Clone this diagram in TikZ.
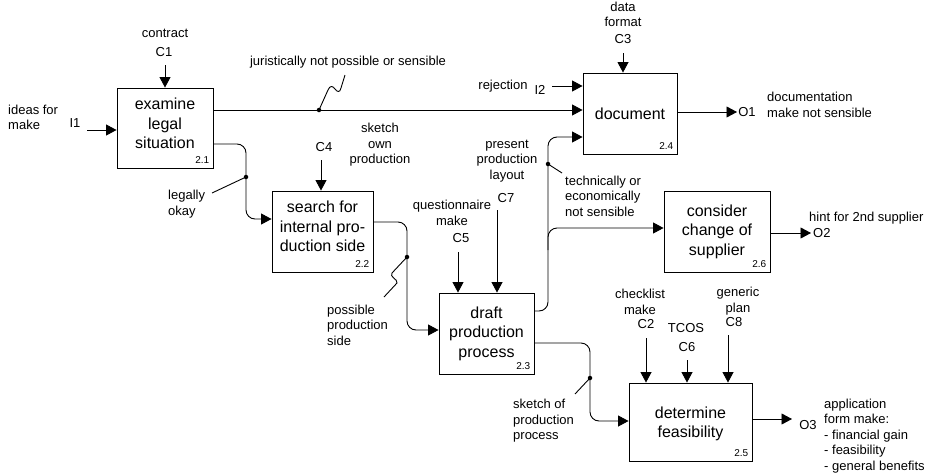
\documentclass[tikz,border=0pt]{standalone}
\usepackage{fontspec}
\setmainfont{Liberation Sans}
\usetikzlibrary{arrows.meta}
\begin{document}
\begin{tikzpicture}[x=1pt,y=-1pt]
\tikzset{
  box/.style={draw, line width=0.9pt, inner sep=0pt, align=center,
    font=\fontsize{16}{19.5}\selectfont},
  lbl/.style={inner sep=0pt, align=center, font=\fontsize{13}{15.5}\selectfont},
  lbll/.style={lbl, align=left, anchor=west},
  num/.style={inner sep=0pt, anchor=south east, font=\fontsize{10}{12}\selectfont},
  flow/.style={line width=0.9pt, -{Triangle[length=10.5pt,width=11pt]}},
  roundflow/.style={flow, rounded corners=9pt},
  lead/.style={line width=0.9pt},
  dot/.style={circle, fill, inner sep=0pt, minimum size=4.5pt},
}
\useasboundingbox (0,0) rectangle (939,474);

% activity boxes
\node[box, minimum width=96pt,  minimum height=80pt, text depth=9pt] (b21) at (165,128) {examine\\legal\\situation};
\node[box, minimum width=101pt, minimum height=81pt, text depth=10pt] (b22) at (322.5,231.5) {search for\\internal pro-\\duction side};
\node[box, minimum width=95pt,  minimum height=81pt] (b23) at (486.5,333.5) {draft\\production\\process};
\node[box, minimum width=94pt,  minimum height=81pt] (b24) at (630,113.5)  {document};
\node[box, minimum width=123pt, minimum height=78pt, text depth=0pt] (b25) at (690.5,422) {determine\\feasibility};
\node[box, minimum width=106pt, minimum height=81pt] (b26) at (717,231.5)  {consider\\change of\\supplier};

% activity numbers
\node[num] (n21) at ([xshift=-4pt,yshift=5pt]b21.south east) {2.1};
\node[num] (n22) at ([xshift=-4pt,yshift=5pt]b22.south east) {2.2};
\node[num] (n23) at ([xshift=-4pt,yshift=5pt]b23.south east) {2.3};
\node[num] (n24) at ([xshift=-4pt,yshift=5pt]b24.south east) {2.4};
\node[num] (n25) at ([xshift=-4pt,yshift=5pt]b25.south east) {2.5};
\node[num] (n26) at ([xshift=-4pt,yshift=5pt]b26.south east) {2.6};

% free ends of the boundary arrows
\coordinate (c1s) at (165,65);
\coordinate (i1s) at (87,130);
\coordinate (c4s) at (321,160);
\coordinate (c5s) at (458,252);
\coordinate (c7s) at (497,210);
\coordinate (c3s) at (623,53);
\coordinate (i2s) at (552,86);
\coordinate (c2s) at (646,338);
\coordinate (c6s) at (687,360);
\coordinate (c8s) at (728,335);
\coordinate (o1e) at (737,112);
\coordinate (o2e) at (811,233);
\coordinate (o3e) at (792,419);

% branch points
\coordinate (j1) at (319,110);
\coordinate (j2) at (246,177);
\coordinate (j3) at (407,257);
\coordinate (j4) at (548,164);
\coordinate (j5) at (548,250);
\coordinate (j6) at (590,378);

% boundary labels
\node[lbl] (tcontract) at (165,33) {contract};
\node[lbl] (tc1) at (164,52) {C1};
\node[lbll] (tideas) at (8,117.5) {ideas for\\make};
\node[lbl] (ti1) at (75,123) {I1};
\node[lbl] (tc4) at (324,147) {C4};
\node[lbl] (tsketch) at (380,145) {sketch\\own\\production};
\node[lbl] (tquest) at (452,213) {questionnaire\\make};
\node[lbl] (tc5) at (461,238) {C5};
\node[lbl] (tpresent) at (507,161) {present\\production\\layout};
\node[lbl] (tc7) at (506,198) {C7};
\node[lbl] (tdata) at (623,14.5) {data\\format};
\node[lbl] (tc3) at (623,39) {C3};
\node[lbl] (trej) at (503,86) {rejection};
\node[lbl] (ti2) at (540,90) {I2};
\node[lbl] (to1) at (747,112) {O1};
\node[lbll] (tdoc) at (767,105) {documentation\\make not sensible};
\node[lbll] (thint) at (809,218) {hint for 2nd supplier};
\node[lbll] (to2) at (813,233) {O2};
\node[lbl] (tcheck) at (640,302) {checklist\\make};
\node[lbl] (tc2) at (646,324) {C2};
\node[lbl] (ttcos) at (686,328) {TCOS};
\node[lbl] (tc6) at (687,347) {C6};
\node[lbl] (tgen) at (738,301) {generic\\plan};
\node[lbl] (tc8) at (734,322) {C8};
\node[lbl] (to3) at (808,425) {O3};
\node[lbll] (tappl) at (824,436) {application\\form make:\\- financial gain\\- feasibility\\- general benefits};

% arrow labels
\node[lbl] (tjur) at (348,62) {juristically not possible or sensible};
\node[lbll] (tlegal) at (168,204) {legally\\okay};
\node[lbll] (tpos) at (327,325) {possible\\production\\side};
\node[lbll] (ttech) at (565,196) {technically or\\economically\\not sensible};
\node[lbll] (tsop) at (513,421) {sketch of\\production\\process};

% controls and inputs
\draw[flow] (c1s) -- (c1s |- b21.north);
\draw[flow] (i1s) -- (b21.west |- i1s);
\draw[flow] (c4s) -- (c4s |- b22.north);
\draw[flow] (c5s) -- (c5s |- b23.north);
\draw[flow] (c7s) -- (c7s |- b23.north);
\draw[flow] (c3s) -- (c3s |- b24.north);
\draw[flow] (i2s) -- (b24.west |- i2s);
\draw[flow] (c2s) -- (c2s |- b25.north);
\draw[flow] (c6s) -- (c6s |- b25.north);
\draw[flow] (c8s) -- (c8s |- b25.north);

% outputs
\draw[flow] (b24.east |- o1e) -- (o1e);
\draw[flow] (b26.east |- o2e) -- (o2e);
\draw[flow] (b25.east |- o3e) -- (o3e);

% flows between activities
\draw[flow] (b21.east |- j1) -- (b24.west |- j1);
\draw[roundflow] (b21.east |- 0,144) -| (j2) |- (b22.west |- 0,219);
\draw[roundflow] (b22.east |- 0,222) -| (j3) |- (b23.west |- 0,330);
\draw[roundflow] (b23.east |- 0,311) -| (j4) |- (b24.west |- 0,137);
\draw[roundflow] (j5) |- (b26.west |- 0,228);
\draw[roundflow] (b23.east |- 0,343) -| (j6) |- (b25.west |- 0,421);

% branch dots and label leaders
\foreach \j in {j1,j2,j3,j4,j6} \node[dot] at (\j) {};
\draw[lead] (j1) -- (328,90) .. controls (330,85) and (333,86) .. (335,89)
  .. controls (337,92) and (340,93) .. (341,88) -- (345,75);
\draw[lead] (j2) -- (212,193);
\draw[lead] (j3) -- (392,273) .. controls (389,277) and (398,279) .. (397,283) -- (384,297);
\draw[lead] (j4) -- (562,173);
\draw[lead] (j6) -- (575,394);
\end{tikzpicture}
\end{document}
